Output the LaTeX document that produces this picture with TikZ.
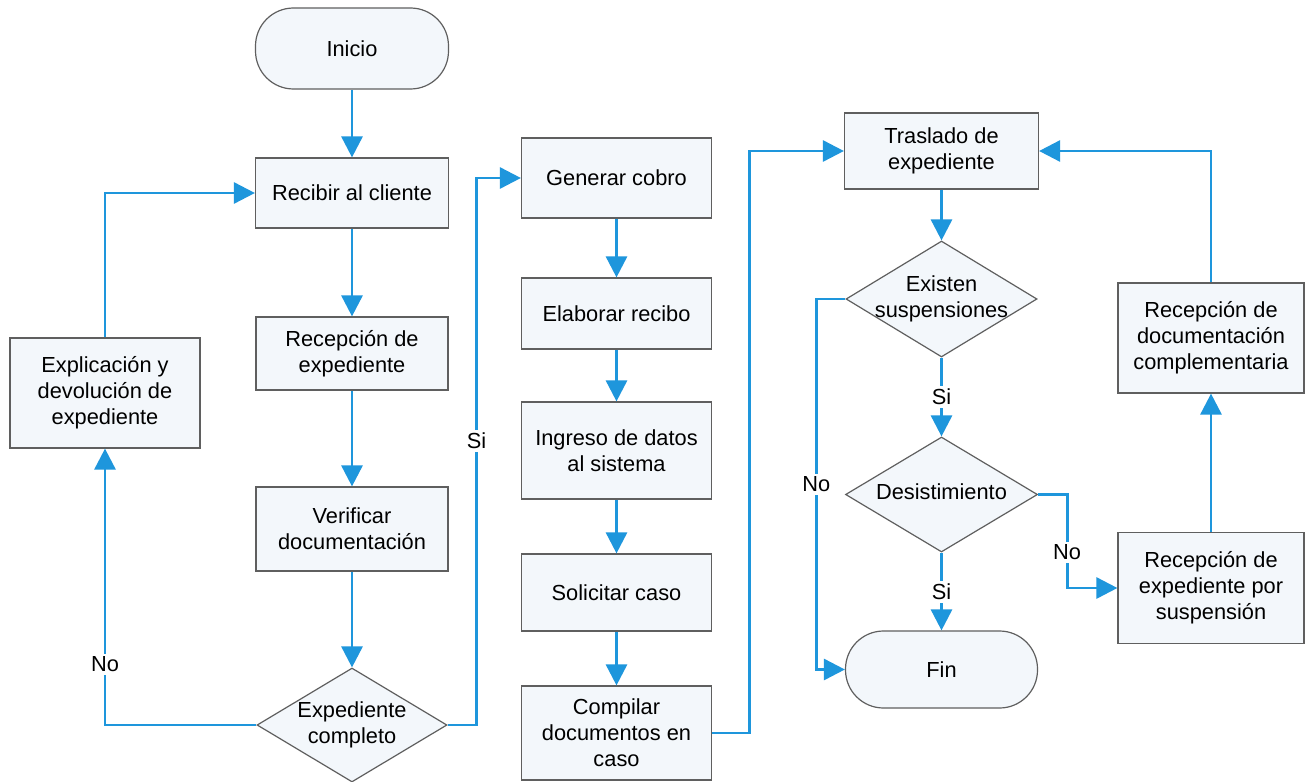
\documentclass[tikz,border=0pt]{standalone}
\usepackage{fontspec}
\setmainfont{Liberation Sans}
\usetikzlibrary{shapes.geometric,arrows.meta}
\definecolor{flowblue}{RGB}{30,150,220}
\definecolor{boxfill}{RGB}{243,247,251}
\definecolor{boxline}{RGB}{95,95,95}
\newcommand{\dtxt}[1]{\makebox[0pt]{\raisebox{-0.25em}[0pt][0pt]{\begin{tabular}{@{}c@{}}#1\end{tabular}}}}
\begin{document}
\begin{tikzpicture}[x=0.5pt,y=-0.5pt,
  every node/.style={font=\fontsize{10.9pt}{13pt}\selectfont},
  proc/.style={draw=boxline, line width=0.6pt, fill=boxfill, align=center, inner sep=2pt},
  term/.style={proc, rounded corners=19pt},
  dec/.style={shape=diamond, draw=boxline, line width=0.6pt, fill=boxfill, inner sep=0pt},
  flow/.style={draw=flowblue, line width=1.4pt, -{Triangle[length=10.5pt,width=10.5pt]}},
  lbl/.style={fill=white, inner sep=1.5pt}
]
\path[fill=white, use as bounding box] (0,0) rectangle (1305,781);

% left column
\node[term, minimum width=96.5pt, minimum height=40.5pt] (ini) at (352,48.5) {Inicio};
\node[proc, minimum width=96.5pt, minimum height=35pt] (rec) at (352,193) {Recibir al cliente};
\node[proc, minimum width=96pt, minimum height=36.5pt] (recexp) at (352,353.5) {Recepción de\\expediente};
\node[proc, minimum width=96pt, minimum height=42pt] (ver) at (352,529) {Verificar\\documentación};
\node[dec, minimum width=95pt, minimum height=57pt] (d1) at (352,725) {\dtxt{Expediente\\completo}};
\node[proc, minimum width=95pt, minimum height=55pt] (expl) at (105,393) {Explicación y\\devolución de\\expediente};

% middle column
\node[proc, minimum width=95pt, minimum height=40pt] (gen) at (616.5,178) {Generar cobro};
\node[proc, minimum width=95pt, minimum height=35.5pt] (ela) at (616.5,313.5) {Elaborar recibo};
\node[proc, minimum width=95pt, minimum height=48.5pt] (ing) at (616.5,450.5) {Ingreso de datos\\al sistema};
\node[proc, minimum width=95pt, minimum height=38.5pt] (sol) at (616.5,592.5) {Solicitar caso};
\node[proc, minimum width=95pt, minimum height=47pt] (comp) at (616.5,733) {Compilar\\documentos en\\caso};

% right part
\node[proc, minimum width=97pt, minimum height=38pt] (tras) at (941.5,151) {Traslado de\\expediente};
\node[dec, minimum width=95.5pt, minimum height=58pt] (d2) at (941.5,299) {\dtxt{Existen\\suspensiones}};
\node[dec, minimum width=96pt, minimum height=57.5pt] (d3) at (941.5,494.5) {\dtxt{Desistimiento}};
\node[term, minimum width=96pt, minimum height=38.5pt] (fin) at (941.5,669.5) {Fin};
\node[proc, minimum width=93pt, minimum height=55pt] (rdoc) at (1211,338) {Recepción de\\documentación\\complementaria};
\node[proc, minimum width=93pt, minimum height=55.5pt] (rsus) at (1211,588) {Recepción de\\expediente por\\suspensión};

% connectors
\draw[flow] (ini) -- (rec);
\draw[flow] (rec) -- (recexp);
\draw[flow] (recexp) -- (ver);
\draw[flow] (ver) -- (d1);
\draw[flow] (d1.west) -| node[lbl, pos=0.61] {No} (expl.south);
\draw[flow] (expl.north) |- (rec.west);
\draw[flow] (d1.east) -- ++(29,0) |- node[lbl, pos=0.26] {Si} (gen.west);

\draw[flow] (gen) -- (ela);
\draw[flow] (ela) -- (ing);
\draw[flow] (ing) -- (sol);
\draw[flow] (sol) -- (comp);
\draw[flow] (comp.east) -- ++(37,0) |- (tras.west);

\draw[flow] (tras) -- (d2);
\draw[flow] (d2) -- node[lbl] {Si} (d3);
\draw[flow] (d2.west) -- ++(-29,0) |- node[lbl, pos=0.25] {No} (fin.west);
\draw[flow] (d3) -- node[lbl] {Si} (fin);
\draw[flow] (d3.east) -- ++(29,0) |- node[lbl, pos=0.31] {No} (rsus.west);
\draw[flow] (rsus) -- (rdoc);
\draw[flow] (rdoc.north) |- (tras.east);
\end{tikzpicture}
\end{document}
